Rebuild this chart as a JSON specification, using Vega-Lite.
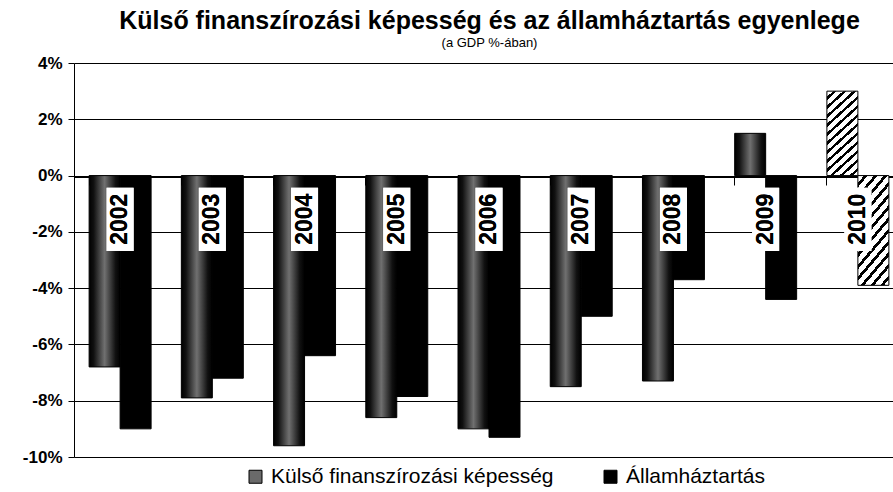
{
  "$schema": "https://vega.github.io/schema/vega-lite/v6.json",
  "width": 819,
  "height": 394,
  "autosize": {"type": "none"},
  "padding": {"left": 74, "top": 63, "right": 0, "bottom": 35},
  "background": "white",
  "title": {
    "text": "Külső finanszírozási képesség és az államháztartás egyenlege",
    "subtitle": "(a GDP %-ában)",
    "anchor": "middle",
    "dx": 6,
    "offset": 4,
    "font": "Liberation Sans",
    "fontSize": 25,
    "fontWeight": "bold",
    "color": "black",
    "subtitleFont": "Liberation Sans",
    "subtitleFontSize": 13,
    "subtitleColor": "black",
    "subtitlePadding": 3
  },
  "data": {
    "values": [
      {"year": "2002", "series": "Külső finanszírozási képesség", "value": -6.8},
      {"year": "2002", "series": "Államháztartás", "value": -9.0},
      {"year": "2003", "series": "Külső finanszírozási képesség", "value": -7.9},
      {"year": "2003", "series": "Államháztartás", "value": -7.2},
      {"year": "2004", "series": "Külső finanszírozási képesség", "value": -9.6},
      {"year": "2004", "series": "Államháztartás", "value": -6.4},
      {"year": "2005", "series": "Külső finanszírozási képesség", "value": -8.6},
      {"year": "2005", "series": "Államháztartás", "value": -7.85},
      {"year": "2006", "series": "Külső finanszírozási képesség", "value": -9.0},
      {"year": "2006", "series": "Államháztartás", "value": -9.3},
      {"year": "2007", "series": "Külső finanszírozási képesség", "value": -7.5},
      {"year": "2007", "series": "Államháztartás", "value": -5.0},
      {"year": "2008", "series": "Külső finanszírozási képesség", "value": -7.3},
      {"year": "2008", "series": "Államháztartás", "value": -3.7},
      {"year": "2009", "series": "Külső finanszírozási képesség", "value": 1.5},
      {"year": "2009", "series": "Államháztartás", "value": -4.4},
      {"year": "2010", "series": "Külső finanszírozási képesség", "value": 3.0},
      {"year": "2010", "series": "Államháztartás", "value": -3.9}
    ]
  },
  "encoding": {
    "x": {
      "field": "year",
      "type": "nominal",
      "scale": {"range": [0, 830], "paddingInner": 0.328, "paddingOuter": 0.164},
      "axis": {
        "orient": "bottom",
        "offset": -280,
        "labels": false,
        "title": null,
        "domainColor": "black",
        "tickColor": "black",
        "tickSize": 8,
        "bandPosition": 0,
        "grid": false
      }
    }
  },
  "layer": [
    {
      "mark": {"type": "bar", "stroke": "black", "strokeWidth": 1},
      "encoding": {
        "xOffset": {
          "field": "series",
          "type": "nominal",
          "scale": {"domain": ["Külső finanszírozási képesség", "Államháztartás"], "paddingInner": 0, "paddingOuter": 0}
        },
        "y": {
          "field": "value",
          "type": "quantitative",
          "scale": {"domain": [-10, 4], "nice": false, "zero": false},
          "axis": {
            "values": [-10, -8, -6, -4, -2, 0, 2, 4],
            "labelExpr": "datum.value + '%'",
            "title": null,
            "labelFont": "Liberation Sans",
            "labelFontWeight": "bold",
            "labelFontSize": 17,
            "labelColor": "black",
            "labelPadding": 6,
            "tickColor": "black",
            "tickSize": 6,
            "domainColor": "black",
            "gridColor": "black",
            "gridOpacity": 1,
            "gridWidth": 1
          }
        },
        "fill": {
          "field": "series",
          "type": "nominal",
          "scale": {"domain": ["Külső finanszírozási képesség", "Államháztartás"], "range": ["#6a6a6a", "#000000"]},
          "legend": {
            "title": null,
            "orient": "none",
            "legendX": 171,
            "legendY": 403,
            "direction": "horizontal",
            "symbolType": "square",
            "symbolSize": 169,
            "symbolStrokeColor": "black",
            "symbolStrokeWidth": 1,
            "labelFont": "Liberation Sans",
            "labelFontSize": 21,
            "labelColor": "black",
            "labelOffset": 5,
            "columnPadding": 46,
            "labelLimit": 400
          },
          "condition": [
            {
              "test": "datum.year === '2010'",
              "value": {
                "gradient": "linear", "x1": 0, "y1": 0, "x2": 1, "y2": 3,
                "stops": [
                  {"offset": 0, "color": "#ffffff"}, {"offset": 0.020, "color": "#ffffff"}, {"offset": 0.020, "color": "#000000"}, {"offset": 0.032, "color": "#000000"},
                  {"offset": 0.032, "color": "#ffffff"}, {"offset": 0.052, "color": "#ffffff"}, {"offset": 0.052, "color": "#000000"}, {"offset": 0.064, "color": "#000000"},
                  {"offset": 0.064, "color": "#ffffff"}, {"offset": 0.084, "color": "#ffffff"}, {"offset": 0.084, "color": "#000000"}, {"offset": 0.096, "color": "#000000"},
                  {"offset": 0.096, "color": "#ffffff"}, {"offset": 0.116, "color": "#ffffff"}, {"offset": 0.116, "color": "#000000"}, {"offset": 0.128, "color": "#000000"},
                  {"offset": 0.128, "color": "#ffffff"}, {"offset": 0.148, "color": "#ffffff"}, {"offset": 0.148, "color": "#000000"}, {"offset": 0.160, "color": "#000000"},
                  {"offset": 0.160, "color": "#ffffff"}, {"offset": 0.180, "color": "#ffffff"}, {"offset": 0.180, "color": "#000000"}, {"offset": 0.192, "color": "#000000"},
                  {"offset": 0.192, "color": "#ffffff"}, {"offset": 0.212, "color": "#ffffff"}, {"offset": 0.212, "color": "#000000"}, {"offset": 0.224, "color": "#000000"},
                  {"offset": 0.224, "color": "#ffffff"}, {"offset": 0.244, "color": "#ffffff"}, {"offset": 0.244, "color": "#000000"}, {"offset": 0.256, "color": "#000000"},
                  {"offset": 0.256, "color": "#ffffff"}, {"offset": 0.276, "color": "#ffffff"}, {"offset": 0.276, "color": "#000000"}, {"offset": 0.288, "color": "#000000"},
                  {"offset": 0.288, "color": "#ffffff"}, {"offset": 0.308, "color": "#ffffff"}, {"offset": 0.308, "color": "#000000"}, {"offset": 0.320, "color": "#000000"},
                  {"offset": 0.320, "color": "#ffffff"}, {"offset": 0.340, "color": "#ffffff"}, {"offset": 0.340, "color": "#000000"}, {"offset": 0.352, "color": "#000000"},
                  {"offset": 0.352, "color": "#ffffff"}, {"offset": 0.372, "color": "#ffffff"}, {"offset": 0.372, "color": "#000000"}, {"offset": 0.384, "color": "#000000"},
                  {"offset": 0.384, "color": "#ffffff"}, {"offset": 0.404, "color": "#ffffff"}, {"offset": 0.404, "color": "#000000"}, {"offset": 0.416, "color": "#000000"},
                  {"offset": 0.416, "color": "#ffffff"}, {"offset": 0.436, "color": "#ffffff"}, {"offset": 0.436, "color": "#000000"}, {"offset": 0.448, "color": "#000000"},
                  {"offset": 0.448, "color": "#ffffff"}, {"offset": 0.468, "color": "#ffffff"}, {"offset": 0.468, "color": "#000000"}, {"offset": 0.480, "color": "#000000"},
                  {"offset": 0.480, "color": "#ffffff"}, {"offset": 1, "color": "#ffffff"}
                ]
              }
            },
            {
              "test": "datum.series === 'Külső finanszírozási képesség'",
              "value": {
                "gradient": "linear", "x1": 0, "y1": 0, "x2": 1, "y2": 0,
                "stops": [
                  {"offset": 0, "color": "#000000"},
                  {"offset": 0.15, "color": "#111111"},
                  {"offset": 0.5, "color": "#707070"},
                  {"offset": 0.85, "color": "#111111"},
                  {"offset": 1, "color": "#000000"}
                ]
              }
            }
          ]
        }
      }
    },
    {
      "mark": {"type": "bar", "width": 27, "fill": "white", "stroke": null},
      "encoding": {
        "y": {"datum": -0.43, "type": "quantitative"},
        "y2": {"datum": -2.68}
      }
    },
    {
      "mark": {
        "type": "text",
        "angle": 270,
        "align": "center",
        "baseline": "middle",
        "font": "Liberation Sans",
        "fontSize": 23,
        "fontWeight": "bold",
        "color": "black"
      },
      "encoding": {
        "y": {"datum": -1.55, "type": "quantitative"},
        "text": {"field": "year", "type": "nominal"}
      }
    }
  ],
  "config": {
    "view": {"stroke": null}
  }
}
